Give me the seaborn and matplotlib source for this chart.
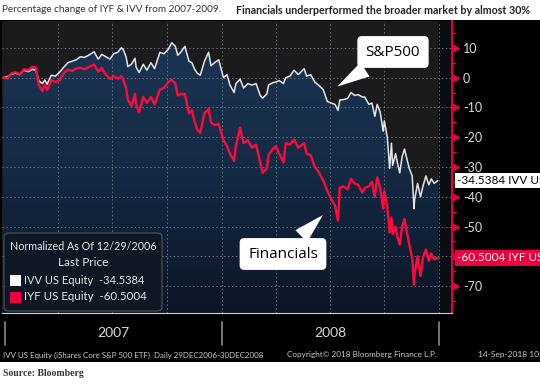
import numpy as np
import pandas as pd
import matplotlib
matplotlib.use("Agg")
import matplotlib.pyplot as plt
import matplotlib.dates as mdates
import matplotlib.transforms as mtrans
from matplotlib.patches import Rectangle, FancyBboxPatch, PathPatch
from matplotlib.colors import LinearSegmentedColormap
import seaborn as sns

sns.set_theme(style="dark")
plt.rcParams["font.family"] = ["Lato", "DejaVu Sans"]

# ---------------- data ----------------
dates = [
    "2006-12-29", "2007-01-05", "2007-01-12", "2007-01-19", "2007-01-26", "2007-02-02",
    "2007-02-09", "2007-02-16", "2007-02-22", "2007-02-27", "2007-03-05", "2007-03-09",
    "2007-03-13", "2007-03-20", "2007-03-27", "2007-04-03", "2007-04-10", "2007-04-17",
    "2007-04-24", "2007-05-01", "2007-05-08", "2007-05-15", "2007-05-22", "2007-05-31",
    "2007-06-07", "2007-06-13", "2007-06-20", "2007-06-27", "2007-07-03", "2007-07-10",
    "2007-07-16", "2007-07-19", "2007-07-24", "2007-07-27", "2007-08-02", "2007-08-08",
    "2007-08-10", "2007-08-15", "2007-08-22", "2007-08-28", "2007-09-04", "2007-09-10",
    "2007-09-19", "2007-09-26", "2007-10-03", "2007-10-09", "2007-10-15", "2007-10-19",
    "2007-10-24", "2007-10-31", "2007-11-07", "2007-11-12", "2007-11-16", "2007-11-21",
    "2007-11-26", "2007-12-03", "2007-12-10", "2007-12-14", "2007-12-20", "2007-12-27",
    "2008-01-04", "2008-01-10", "2008-01-15", "2008-01-22", "2008-01-25", "2008-02-01",
    "2008-02-07", "2008-02-14", "2008-02-21", "2008-02-28", "2008-03-06", "2008-03-10",
    "2008-03-17", "2008-03-20", "2008-03-27", "2008-04-01", "2008-04-07", "2008-04-14",
    "2008-04-18", "2008-04-25", "2008-05-02", "2008-05-09", "2008-05-19", "2008-05-23",
    "2008-05-30", "2008-06-06", "2008-06-12", "2008-06-20", "2008-06-27", "2008-07-03",
    "2008-07-10", "2008-07-15", "2008-07-18", "2008-07-24", "2008-07-31", "2008-08-06",
    "2008-08-12", "2008-08-18", "2008-08-25", "2008-08-29", "2008-09-05", "2008-09-10",
    "2008-09-15", "2008-09-19", "2008-09-24", "2008-09-29", "2008-10-01", "2008-10-06",
    "2008-10-10", "2008-10-13", "2008-10-15", "2008-10-20", "2008-10-23", "2008-10-27",
    "2008-10-31", "2008-11-04", "2008-11-12", "2008-11-17", "2008-11-20", "2008-11-21",
    "2008-11-26", "2008-12-01", "2008-12-05", "2008-12-10", "2008-12-15", "2008-12-19",
    "2008-12-24", "2008-12-30",
]

ivv = [
    0.0, 0.3, 1.2, 1.5, 1.0, 2.5, 2.0, 2.8, 2.5, -1.0, -2.0, -0.8,
    -2.2, 0.8, 0.5, 1.8, 3.5, 5.0, 5.5, 6.0, 7.0, 6.8, 7.5, 8.7,
    6.2, 7.8, 7.0, 6.2, 8.0, 8.5, 10.0, 9.5, 7.0, 3.7, 4.5, 6.5,
    3.5, 1.7, 4.5, 2.5, 5.0, 3.0, 8.5, 8.0, 9.5, 11.7, 10.5, 7.5,
    8.5, 10.5, 5.5, 5.0, 3.0, 1.5, 0.8, 5.5, 8.5, 4.0, 5.0, 6.0,
    0.0, 1.0, -2.5, -5.0, -2.0, -0.5, -3.5, -2.0, -2.5, -2.0, -6.0, -6.9,
    -5.5, -2.5, -1.7, -1.5, -1.0, -2.0, 0.0, 0.5, 2.5, 1.0, 3.0, 0.5,
    1.0, -1.5, -2.5, -4.0, -8.0, -8.5, -9.0, -11.0, -7.5, -7.4, -7.0, -5.0,
    -6.0, -5.7, -6.5, -6.5, -9.0, -8.5, -13.0, -9.0, -11.5, -18.0, -14.5, -20.0,
    -30.5, -22.0, -29.5, -25.5, -28.5, -32.0, -26.5, -24.0, -30.5, -33.0, -44.0, -41.0,
    -35.5, -40.0, -36.5, -33.0, -36.0, -34.0, -35.5, -34.5384,
]

iyf = [
    0.0, -0.3, 1.5, 1.8, 1.2, 2.8, 2.5, 3.6, 3.4, -2.5, -4.5, -2.5,
    -4.2, -0.8, -1.5, -0.8, 1.5, 2.7, 2.2, 3.0, 3.3, 2.8, 3.5, 4.4,
    2.0, 3.2, 1.0, -0.5, 0.5, -0.3, 0.5, -0.5, -3.5, -7.4, -9.5, -5.5,
    -9.0, -11.7, -6.5, -8.5, -6.5, -9.0, -4.0, -3.5, -1.5, -0.7, -2.0, -6.0,
    -5.5, -5.5, -12.0, -11.0, -14.5, -17.5, -18.5, -12.0, -10.5, -15.0, -16.0, -15.5,
    -21.0, -23.0, -25.5, -28.0, -23.0, -16.8, -22.0, -21.0, -23.5, -22.5, -28.5, -32.0,
    -30.5, -26.0, -24.0, -23.0, -25.5, -28.5, -22.0, -22.5, -20.8, -23.5, -22.0, -25.5,
    -26.0, -30.0, -31.5, -34.5, -38.0, -40.5, -43.0, -48.0, -37.0, -36.5, -37.5, -34.0,
    -35.5, -36.0, -38.6, -37.0, -36.5, -35.0, -40.0, -33.5, -37.0, -44.0, -38.0, -43.5,
    -52.0, -47.0, -52.5, -50.0, -53.5, -56.0, -50.0, -47.5, -56.0, -60.5, -69.5, -66.0,
    -60.0, -66.5, -60.5, -57.7, -61.5, -59.0, -61.0, -60.5004,
]

y_ticks = [10, 0, -10, -20, -30, -40, -50, -60, -70]
y_labels = ["10", "0", "-10", "-20", "-30", "-40", "-50", "", "-70"]  # -60 sits under the IYF tag
years = ["2007", "2008"]

df = pd.DataFrame({"date": pd.to_datetime(dates), "IVV": ivv, "IYF": iyf})

W, H = 540, 388


def fx(px):
    return px / W


def fy(py):
    return 1 - py / H


fig = plt.figure(figsize=(W / 100, H / 100), dpi=100, facecolor="white")
renderer = fig.canvas.get_renderer()


def fit(t, width_px):
    # shrink a text until it is no wider than width_px
    for _ in range(30):
        w = t.get_window_extent(renderer).width
        if w <= width_px:
            break
        t.set_fontsize(t.get_fontsize() * 0.97)
    return t


# black terminal panel
fig.patches.append(Rectangle((0, fy(362)), 1, fy(20) - fy(362), transform=fig.transFigure,
                             facecolor="black", edgecolor="none", zorder=-5))

ax = fig.add_axes([fx(2), fy(313), fx(450), (313 - 21) / H])
ax.set_zorder(1)
ax.set_facecolor("#1b1b1d")

x0 = pd.Timestamp("2006-12-27")
x1 = pd.Timestamp("2009-01-23")
ymin, ymax = -79, 19
ax.set_xlim(x0, x1)
ax.set_ylim(ymin, ymax)

# dark strip after the last date
ax.axvspan(pd.Timestamp("2008-12-31"), x1, color="#0a0d12", lw=0, zorder=0.5)

# gradient under the IVV line
poly = ax.fill_between(df["date"], df["IVV"], ymin, color="#1b3150", lw=0, zorder=1)
cmap = LinearSegmentedColormap.from_list("navy", ["#0c1626", "#152a45", "#1d3656"])
grad = np.linspace(0, 1, 256).reshape(-1, 1)
im = ax.imshow(grad, extent=[mdates.date2num(x0), mdates.date2num(x1), ymin, ymax],
               origin="lower", aspect="auto", cmap=cmap, zorder=1.5)
clip = PathPatch(poly.get_paths()[0], transform=ax.transData, facecolor="none", edgecolor="none")
ax.add_patch(clip)
im.set_clip_path(clip)

# grid
for yv in range(-70, 20, 10):
    ax.axhline(yv, color="#6a7480", lw=0.7, ls=(0, (1.5, 2.5)), zorder=2)
for q in pd.date_range("2007-04-01", "2009-01-01", freq="QS"):
    ax.axvline(q, color="#6a7480", lw=0.7, ls=(0, (1.5, 2.5)), zorder=2)

sns.lineplot(data=df, x="date", y="IVV", ax=ax, color="#e4e4e4", lw=1.1, zorder=3)
sns.lineplot(data=df, x="date", y="IYF", ax=ax, color="#ff0a3c", lw=1.7, zorder=4)
ax.set_xlabel("")
ax.set_ylabel("")
ax.grid(False)

# spines
for s in ["top", "left"]:
    ax.spines[s].set_visible(False)
ax.spines["right"].set_color("#e8003c")
ax.spines["right"].set_linewidth(1.4)
ax.spines["bottom"].set_color("#d0d0d0")
ax.spines["bottom"].set_linewidth(0.8)

# right axis
ax.yaxis.tick_right()
ax.set_yticks(y_ticks)
ax.set_yticklabels(y_labels)
ax.set_yticks(np.arange(-75, 20, 10), minor=True)
ax.tick_params(axis="y", which="major", length=0, pad=8, labelsize=9, labelcolor="#dcdcdc")
ax.tick_params(axis="y", which="minor", length=3, width=1, color="#e8003c", direction="out")
tr_y = mtrans.blended_transform_factory(ax.transAxes, ax.transData)
ax.plot([1.008] * len(y_ticks), y_ticks, ls="none", marker=">", ms=5, color="#e8003c",
        transform=tr_y, clip_on=False, zorder=5)

# monthly ticks along the bottom
ax.set_xticks(pd.date_range("2007-01-01", "2009-01-01", freq="MS"))
ax.set_xticklabels([])
ax.tick_params(axis="x", length=3, width=0.8, color="#d0d0d0", direction="out")

# year band
tr_x = mtrans.blended_transform_factory(ax.transData, ax.transAxes)
for d in ["2007-01-01", "2008-01-01", "2009-01-01"]:
    ax.plot([pd.Timestamp(d)] * 2, [-0.03, -0.11], color="#8a8a8a", lw=1.2,
            transform=tr_x, clip_on=False)
for yr in years:
    ax.text(pd.Timestamp(yr + "-07-02"), -0.07, yr, transform=tr_x, ha="center", va="center",
            fontsize=10, color="#d8d8d8")

# last value tags (run off the right edge like the terminal screenshot)
ax.text(1.012, ivv[-1], f"{ivv[-1]:.4f} IVV US", transform=tr_y, ha="left", va="center",
        fontsize=8.5, color="black",
        bbox=dict(boxstyle="square,pad=0.2", fc="white", ec="none"), clip_on=False, zorder=6)
ax.text(1.012, iyf[-1], f"{iyf[-1]:.4f} IYF US", transform=tr_y, ha="left", va="center",
        fontsize=8.5, color="white",
        bbox=dict(boxstyle="square,pad=0.2", fc="#ee0040", ec="none"), clip_on=False, zorder=6)

# legend box
fig.patches.append(FancyBboxPatch((fx(4), fy(311)), fx(158), fy(233) - fy(311),
                                  boxstyle="round,pad=0,rounding_size=0.01",
                                  transform=fig.transFigure, facecolor="#0f1724",
                                  edgecolor="#4a5360", lw=0.8, zorder=10))
leg_font = dict(fontsize=8.5, color="#e6e6e6", zorder=11, va="center")
fit(fig.text(fx(83), fy(247), "Normalized As Of 12/29/2006", ha="center", **leg_font), 150)
fig.text(fx(83), fy(263), "Last Price", ha="center", **leg_font)
fit(fig.text(fx(24), fy(280), f"IVV US Equity  {ivv[-1]:.4f}", ha="left", **leg_font), 124)
fit(fig.text(fx(24), fy(297), f"IYF US Equity  {iyf[-1]:.4f}", ha="left", **leg_font), 124)
fig.patches.append(Rectangle((fx(10), fy(286)), fx(11), fy(275) - fy(286), transform=fig.transFigure,
                             facecolor="white", edgecolor="none", zorder=11))
fig.patches.append(Rectangle((fx(10), fy(303)), fx(11), fy(292) - fy(303), transform=fig.transFigure,
                             facecolor="#ee0040", edgecolor="none", zorder=11))

# callouts
call = dict(fontsize=11, color="black", family=["Open Sans", "DejaVu Sans"], ha="center", va="center",
            xycoords="figure pixels", textcoords="figure pixels",
            bbox=dict(boxstyle="round,pad=0.55,rounding_size=0.3", fc="white", ec="none"),
            arrowprops=dict(arrowstyle="wedge,tail_width=1.1,shrink_factor=0.5", fc="white", ec="none"),
            zorder=12)
ax.annotate("S&P500", xy=(335, H - 88), xytext=(393, H - 52), **call)
ax.annotate("Financials", xy=(325, H - 213), xytext=(283, H - 254), **call)

# title
fit(fig.text(fx(2), fy(10), "Percentage change of IYF & IVV from 2007-2009.", ha="left", va="center",
             fontsize=9.5, color="#333333"), 222)
fit(fig.text(fx(236), fy(10), "Financials underperformed the broader market by almost 30%", ha="left",
             va="center", fontsize=9.5, color="#222222", fontweight="bold"), 302)

# footer
foot = dict(fontsize=6, color="#c8c8c8", va="center")
fit(fig.text(fx(3), fy(355), "IVV US Equity (iShares Core S&P 500 ETF)  Daily 29DEC2006-30DEC2008",
             ha="left", **foot), 264)
fit(fig.text(fx(287), fy(355), "Copyright\u00a9 2018 Bloomberg Finance L.P.", ha="left", **foot), 150)
fig.text(fx(478), fy(355), "14-Sep-2018 10:47:06", ha="left", **foot)

fig.text(fx(3), fy(374), "Source: Bloomberg", ha="left", va="center", fontsize=7,
         fontweight="bold", color="#333333", family=["Liberation Serif", "DejaVu Serif"])

fig.savefig("out.png", dpi=100, facecolor="white")
